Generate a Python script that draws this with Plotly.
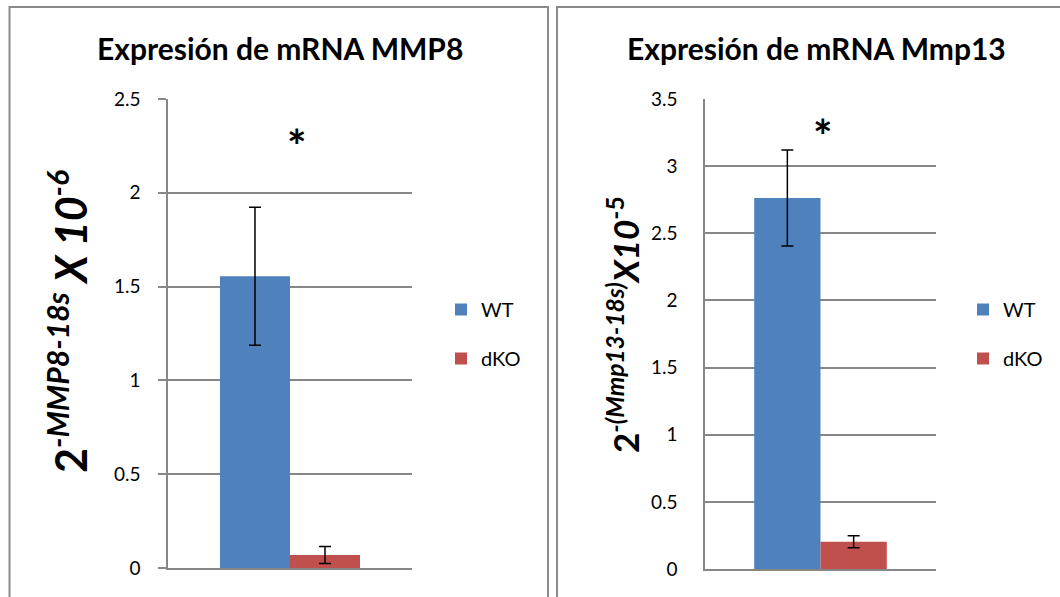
import plotly.graph_objects as go

# ---- data ----
genes = ["MMP8", "Mmp13"]
groups = ["WT", "dKO"]
mmp8_cat = ["MMP8"]
mmp13_cat = ["Mmp13"]
mmp8_wt = [1.555]
mmp8_wt_err = [0.368]
mmp8_dko = [0.069]
mmp8_dko_err = [0.045]
mmp13_wt = [2.763]
mmp13_wt_err = [0.357]
mmp13_dko = [0.203]
mmp13_dko_err = [0.045]
mmp8_ticks = [0, 0.5, 1, 1.5, 2, 2.5]
mmp13_ticks = [0, 0.5, 1, 1.5, 2, 2.5, 3, 3.5]

BLUE = "#4F81BD"
RED = "#C0504D"
GRID = "#878787"
FONT = "Lato"
W, H = 1060, 597

def px_x(p):
    return p / W

def px_y(p):
    return 1 - p / H

fig = go.Figure()

err_style = dict(type="data", visible=True, color="black", thickness=1.5, width=6)

fig.add_trace(go.Bar(x=mmp8_cat, y=mmp8_wt, name=groups[0], marker_color=BLUE,
                     error_y=dict(array=mmp8_wt_err, **err_style),
                     xaxis="x", yaxis="y", legend="legend", legendgroup="a"))
fig.add_trace(go.Bar(x=mmp8_cat, y=mmp8_dko, name=groups[1], marker_color=RED,
                     error_y=dict(array=mmp8_dko_err, **err_style),
                     xaxis="x", yaxis="y", legend="legend", legendgroup="b"))
fig.add_trace(go.Bar(x=mmp13_cat, y=mmp13_wt, name=groups[0], marker_color=BLUE,
                     error_y=dict(array=mmp13_wt_err, **err_style),
                     xaxis="x2", yaxis="y2", legend="legend2", legendgroup="c"))
fig.add_trace(go.Bar(x=mmp13_cat, y=mmp13_dko, name=groups[1], marker_color=RED,
                     error_y=dict(array=mmp13_dko_err, **err_style),
                     xaxis="x2", yaxis="y2", legend="legend2", legendgroup="d"))

for tr in fig.data:
    tr.marker.line.width = 0

axis_common = dict(showgrid=False, showline=True, linecolor=GRID, linewidth=1.5,
                   showticklabels=False, ticks="", fixedrange=True, automargin=False)
yaxis_common = dict(showgrid=True, gridcolor=GRID, gridwidth=1.5, zeroline=False,
                    showline=True, linecolor=GRID, linewidth=1.5,
                    tickfont=dict(family=FONT, size=19, color="black"),
                    fixedrange=True, automargin=False)

legend_common = dict(font=dict(family=FONT, size=20, color="black"),
                     bgcolor="rgba(0,0,0,0)", traceorder="grouped",
                     tracegroupgap=20, xanchor="left", yanchor="top")

fig.update_layout(
    template="none",
    width=W, height=H,
    margin=dict(l=0, r=0, t=0, b=0, pad=0, autoexpand=False),
    paper_bgcolor="white", plot_bgcolor="white",
    barmode="group", bargap=0.426, bargroupgap=0,
    showlegend=True,
    xaxis=dict(domain=[px_x(168), px_x(412)], anchor="y", **axis_common),
    yaxis=dict(domain=[px_y(568), px_y(99)], anchor="x", range=[0, 2.5],
               tickvals=mmp8_ticks, ticks="outside", ticklen=8, tickcolor=GRID,
               tickwidth=1.5, ticklabelstandoff=14, **yaxis_common),
    xaxis2=dict(domain=[px_x(705), px_x(936)], anchor="y2", **axis_common),
    yaxis2=dict(domain=[px_y(569), px_y(99)], anchor="x2", range=[0, 3.5],
                tickvals=mmp13_ticks, ticks="", ticklabelstandoff=22, **yaxis_common),
    legend=dict(x=px_x(441), y=px_y(290), **legend_common),
    legend2=dict(x=px_x(963), y=px_y(290), **legend_common),
)

title_font = dict(family=FONT, size=30, color="black")
fig.add_annotation(text="<b>Expresión de mRNA " + genes[0] + "</b>", xref="paper", yref="paper",
                   x=px_x(280), y=px_y(48), xanchor="center", yanchor="middle",
                   showarrow=False, font=title_font)
fig.add_annotation(text="<b>Expresión de mRNA " + genes[1] + "</b>", xref="paper", yref="paper",
                   x=px_x(816), y=px_y(48), xanchor="center", yanchor="middle",
                   showarrow=False, font=title_font)

# y-axis titles
fig.add_annotation(text="<b>2</b><sup><b><i>-MMP8-18s</i></b></sup><b><i> X 10</i></b><sup><b><i>-6</i></b></sup>",
                   xref="paper", yref="paper", x=px_x(67), y=px_y(322),
                   xanchor="center", yanchor="middle", textangle=-90, showarrow=False,
                   font=dict(family=FONT, size=43, color="black"))
fig.add_annotation(text="<b>2</b><sup><b><i>-(Mmp13-18s)</i></b></sup><b><i>X10</i></b><sup><b>-5</b></sup>",
                   xref="paper", yref="paper", x=px_x(623), y=px_y(325),
                   xanchor="center", yanchor="middle", textangle=-90, showarrow=False,
                   font=dict(family=FONT, size=35, color="black"))

# significance marks
fig.add_annotation(text="<b>*</b>", xref="x", yref="y", x=0.03, y=2.25,
                   xanchor="center", yanchor="middle", showarrow=False,
                   font=dict(family=FONT, size=46, color="black"))
fig.add_annotation(text="<b>*</b>", xref="x2", yref="y2", x=0.01, y=3.23,
                   xanchor="center", yanchor="middle", showarrow=False,
                   font=dict(family=FONT, size=46, color="black"))

# panel borders
fig.add_shape(type="rect", xref="paper", yref="paper", x0=px_x(9.5), x1=px_x(548),
              y0=-0.05, y1=px_y(7), line=dict(color="#8a8a8a", width=2), layer="below")
fig.add_shape(type="rect", xref="paper", yref="paper", x0=px_x(557), x1=1.05,
              y0=-0.05, y1=px_y(7), line=dict(color="#8a8a8a", width=2), layer="below")

fig.write_html("out.html")
